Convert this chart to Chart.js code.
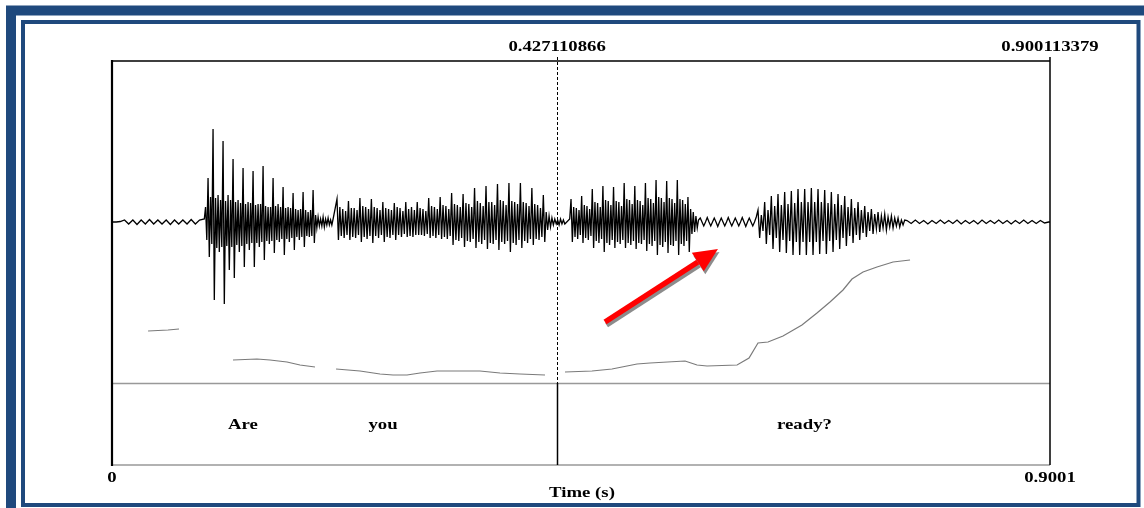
<!DOCTYPE html>
<html>
<head>
<meta charset="utf-8">
<title>Are you ready?</title>
<script src="https://cdn.jsdelivr.net/npm/chart.js@4.4.0/dist/chart.umd.min.js"></script>
<style>
  body { margin: 0; background: #fff; }
  #wave { display: block; }
</style>
</head>
<body>
<canvas id="wave" width="1144" height="508"></canvas>
<script>
// sound: "Are you ready?"  (time in s)
const totalTime = 0.900113379
const boundaryTimes = [0.427110866]
const topLabels = ['0.427110866', '0.900113379']
const topLabelTimes = [0.427110866, 0.900113379]
const bottomLabels = ['0', '0.9001']
const bottomLabelTimes = [0, 0.900113379]
const xTitle = 'Time (s)'

const tierWords = ['Are', 'you', 'ready?']
const tierWordTimes = [0.1257, 0.2601, 0.6645]

// waveform in pieces (start time, sample step, amplitudes)
const leadStart = 0, leadStep = 0.004
const leadWave = [0, 0, 0.005, 0.02, -0.02, 0.02, -0.025, 0.02, -0.02, 0.025, -0.02, 0.02, -0.02, 0.02, -0.025, 0.02, -0.02, 0.02, -0.02, 0.025, -0.02, 0.02]

const areStart = 0.08857, areStep = 0.0012
const areWave = [
  0.03, 0.15, -0.18, 0.44, -0.35, 0.25, -0.22, 0.93, -0.78, 0.24, -0.26, 0.27, -0.30, 0.22, -0.25, 0.81,
  -0.82, 0.21, -0.24, 0.27, -0.48, 0.22, -0.25, 0.63, -0.56, 0.20, -0.23, 0.22, -0.30, 0.19, -0.24, 0.54,
  -0.45, 0.18, -0.22, 0.20, -0.28, 0.19, -0.21, 0.51, -0.45, 0.17, -0.21, 0.18, -0.25, 0.18, -0.20, 0.56,
  -0.38, 0.16, -0.19, 0.15, -0.22, 0.15, -0.19, 0.44, -0.31, 0.16, -0.18, 0.18, -0.20, 0.15, -0.17, 0.35,
  -0.33, 0.14, -0.17, 0.15, -0.20, 0.14, -0.16, 0.29, -0.28, 0.13, -0.15, 0.12, -0.18, 0.13, -0.15, 0.30,
  -0.25, 0.12, -0.14, 0.10, -0.15, 0.12, -0.14, 0.32, -0.21, 0.07, -0.06, 0.05, -0.04, 0.03, -0.04, 0.05,
  -0.05, 0.03, -0.03, 0.04, -0.03, 0.02, -0.03, 0.03]

const youStart = 0.21591, youStep = 0.001375
const youWave = [
  0.23, -0.18, 0.15, -0.14, 0.13, -0.16, 0.11, -0.13,
  0.21, -0.18, 0.14, -0.15, 0.14, -0.16, 0.12, -0.13,
  0.24, -0.20, 0.16, -0.15, 0.15, -0.17, 0.13, -0.14,
  0.23, -0.21, 0.15, -0.14, 0.14, -0.16, 0.12, -0.13,
  0.20, -0.20, 0.14, -0.15, 0.13, -0.16, 0.12, -0.13,
  0.19, -0.18, 0.15, -0.13, 0.14, -0.15, 0.11, -0.12,
  0.20, -0.15, 0.13, -0.14, 0.15, -0.15, 0.12, -0.13,
  0.20, -0.13, 0.14, -0.13, 0.13, -0.14, 0.11, -0.12,
  0.24, -0.16, 0.16, -0.14, 0.15, -0.16, 0.13, -0.13,
  0.25, -0.17, 0.17, -0.15, 0.16, -0.17, 0.13, -0.14,
  0.29, -0.23, 0.18, -0.18, 0.17, -0.19, 0.15, -0.16,
  0.28, -0.25, 0.19, -0.19, 0.18, -0.20, 0.15, -0.17,
  0.34, -0.26, 0.21, -0.20, 0.19, -0.22, 0.16, -0.18,
  0.36, -0.27, 0.20, -0.21, 0.20, -0.22, 0.17, -0.18,
  0.38, -0.28, 0.22, -0.20, 0.21, -0.22, 0.17, -0.19,
  0.39, -0.30, 0.21, -0.21, 0.20, -0.23, 0.18, -0.18,
  0.39, -0.26, 0.20, -0.19, 0.19, -0.21, 0.16, -0.17,
  0.34, -0.23, 0.18, -0.17, 0.17, -0.18, 0.14, -0.15,
  0.27, -0.20, 0.10, -0.08, 0.06, -0.05, 0.04, -0.03,
  0.03, -0.02, 0.02, -0.03, 0.03, -0.02, 0.02, -0.02]

const reaStart = 0.43921, reaStep = 0.001275
const reaWave = [0.03,
  0.23, -0.20, 0.15, -0.15, 0.14, -0.17, 0.12, -0.13,
  0.26, -0.21, 0.17, -0.16, 0.16, -0.18, 0.13, -0.14,
  0.33, -0.26, 0.20, -0.19, 0.19, -0.21, 0.15, -0.17,
  0.36, -0.30, 0.22, -0.21, 0.21, -0.23, 0.17, -0.18,
  0.35, -0.26, 0.21, -0.20, 0.20, -0.22, 0.16, -0.18,
  0.39, -0.26, 0.23, -0.21, 0.22, -0.23, 0.18, -0.19,
  0.36, -0.27, 0.22, -0.21, 0.21, -0.22, 0.17, -0.18,
  0.39, -0.29, 0.24, -0.22, 0.23, -0.24, 0.19, -0.19,
  0.42, -0.33, 0.25, -0.23, 0.24, -0.25, 0.20, -0.20,
  0.41, -0.31, 0.24, -0.23, 0.23, -0.24, 0.19, -0.19,
  0.42, -0.33, 0.23, -0.22, 0.22, -0.24, 0.18, -0.19,
  0.25, -0.30, 0.13, -0.12, 0.10, -0.10, 0.06, -0.06]

const gapStart = 0.56281, gapStep = 0.00168
const gapWave = [0.02, 0.04, 0, -0.04, 0, 0.045, 0, -0.04, 0, 0.04, 0, -0.045, 0, 0.04, 0, -0.04, 0,
  0.045, 0, -0.04, 0, 0.04, 0, -0.04, 0, 0.045, 0, -0.045, 0, 0.04, 0, -0.04, 0, 0.05]

const dyStart = 0.61991, dyStep = 0.0016
const dyWave = [
  0.12, -0.16, 0.07, -0.09, 0.20, -0.22, 0.12, -0.13, 0.26, -0.27, 0.16, -0.16, 0.28, -0.30, 0.17, -0.18,
  0.30, -0.31, 0.18, -0.19, 0.31, -0.33, 0.19, -0.20, 0.33, -0.33, 0.20, -0.20, 0.33, -0.33, 0.20, -0.20,
  0.34, -0.33, 0.20, -0.20, 0.33, -0.32, 0.20, -0.19, 0.32, -0.32, 0.19, -0.19, 0.30, -0.30, 0.18, -0.18,
  0.28, -0.27, 0.17, -0.16, 0.26, -0.24, 0.15, -0.14, 0.23, -0.21, 0.14, -0.13, 0.20, -0.18, 0.12, -0.11,
  0.16, -0.15, 0.10, -0.09, 0.13, -0.12, 0.08, -0.07, 0.10, -0.10, 0.06, -0.06, 0.08, -0.08, 0.05, -0.05,
  0.06, -0.06, 0.04, -0.04, 0.04, -0.05, 0.02, -0.03, 0.02]

const tailStart = 0.76289, tailStep = 0.004
const tailWave = [0.015, -0.015, 0.02, -0.015, 0.015, -0.02, 0.015, -0.015, 0.02, -0.015, 0.015, -0.015,
  0.02, -0.02, 0.015, -0.015, 0.015, -0.02, 0.02, -0.015, 0.015, -0.015, 0.02, -0.015, 0.015, -0.02,
  0.015, -0.015, 0.02, -0.015, 0.015, -0.015, 0.015, -0.01, 0]

// pitch contour (Hz), null = unvoiced
const pitchTimes = [0.0346, 0.0537, 0.0643, 0.09,
  0.1161, 0.1391, 0.1516, 0.1679, 0.1804, 0.1948, 0.205,
  0.2150, 0.2380, 0.2572, 0.2697, 0.2831, 0.2956, 0.3119, 0.3531, 0.3723, 0.3915, 0.4155, 0.425,
  0.4347, 0.4606, 0.4798, 0.5038, 0.5163, 0.5499, 0.5614, 0.5710, 0.5998, 0.6113, 0.6199, 0.6295,
  0.6439, 0.6621, 0.6765, 0.6890, 0.7015, 0.7101, 0.7207, 0.7341, 0.7495, 0.7658]
const pitchHz = [167.5, 168.75, 170, null,
  131.25, 132.5, 131.25, 128.75, 125, 122.5, null,
  120, 117.5, 113.75, 112.5, 112.5, 115, 117.5, 117.5, 115, 113.75, 112.5, null,
  116.25, 117.5, 120, 126.25, 127.5, 130, 125, 123.75, 125, 133.75, 152.5, 153.75,
  161.25, 175, 190, 203.75, 218.75, 232.5, 241.25, 247.5, 253.75, 256.25]

// red arrow pointing at the rise (time, Hz)
const arrowFrom = [0.4731, 178.75]
const arrowTo = [0.5815, 270]

const pieces = [
  [leadStart, leadStep, leadWave],
  [areStart, areStep, areWave],
  [youStart, youStep, youWave],
  [reaStart, reaStep, reaWave],
  [gapStart, gapStep, gapWave],
  [dyStart, dyStep, dyWave],
  [tailStart, tailStep, tailWave]
]
let wavePoints = []
pieces.forEach(p => {
  p[2].forEach((v, i) => wavePoints.push({ x: p[0] + i * p[1], y: v }))
})
wavePoints.push({ x: totalTime, y: 0 })

const pitchPoints = pitchTimes.map((t, i) => ({ x: t, y: pitchHz[i] }))

function stretchText(c, str, x, y) {
  c.save()
  c.translate(x, y)
  c.scale(1.25, 1)
  c.fillText(str, 0, 0)
  c.restore()
}

const praatFrame = {
  id: 'praatFrame',
  beforeDraw(chart) {
    const c = chart.ctx
    c.save()
    c.fillStyle = '#fff'
    c.fillRect(0, 0, chart.width, chart.height)
    c.strokeStyle = '#1f497d'
    c.lineWidth = 10
    c.strokeRect(11, 10.5, 1144, 510)
    c.lineWidth = 4
    c.strokeRect(23, 22, 1115.5, 483)
    c.restore()
  },
  afterDatasetsDraw(chart) {
    const c = chart.ctx
    const { left, right, top, bottom } = chart.chartArea
    const xs = chart.scales.x, yp = chart.scales.yp
    const tierTop = bottom - 82

    c.save()
    // tier lines
    c.strokeStyle = '#999'
    c.lineWidth = 1.5
    c.beginPath()
    c.moveTo(left, tierTop + 0.5); c.lineTo(right, tierTop + 0.5)
    c.moveTo(left, bottom); c.lineTo(right, bottom)
    c.stroke()

    // box
    c.strokeStyle = '#000'
    c.lineWidth = 1.5
    c.beginPath()
    c.moveTo(left, top); c.lineTo(right, top)
    c.moveTo(right, top - 4); c.lineTo(right, bottom)
    c.stroke()
    c.lineWidth = 2.2
    c.beginPath()
    c.moveTo(left, top - 1); c.lineTo(left, bottom + 1)
    c.stroke()

    // interval boundaries
    boundaryTimes.forEach(t => {
      const bx = Math.round(xs.getPixelForValue(t)) + 0.5
      c.lineWidth = 1
      c.setLineDash([3, 2])
      c.beginPath()
      c.moveTo(bx, top - 4); c.lineTo(bx, tierTop)
      c.stroke()
      c.setLineDash([])
      c.lineWidth = 1.5
      c.beginPath()
      c.moveTo(bx, tierTop); c.lineTo(bx, bottom)
      c.stroke()
    })

    // arrow with its grey shadow
    const ax = xs.getPixelForValue(arrowFrom[0]), ay = yp.getPixelForValue(arrowFrom[1])
    const bx = xs.getPixelForValue(arrowTo[0]), by = yp.getPixelForValue(arrowTo[1])
    const len = Math.hypot(bx - ax, by - ay)
    const ux = (bx - ax) / len, uy = (by - ay) / len
    const hl = 24, hw = 11
    const cx = bx - hl * ux, cy = by - hl * uy
    const drawArrow = (dx, dy, col) => {
      c.strokeStyle = col
      c.fillStyle = col
      c.lineWidth = 5.5
      c.lineCap = 'butt'
      c.beginPath()
      c.moveTo(ax + dx, ay + dy); c.lineTo(cx + dx, cy + dy)
      c.stroke()
      c.beginPath()
      c.moveTo(bx + dx, by + dy)
      c.lineTo(cx - hw * uy + dx, cy + hw * ux + dy)
      c.lineTo(cx + hw * uy + dx, cy - hw * ux + dy)
      c.closePath()
      c.fill()
    }
    drawArrow(1.5, 3, '#8c8c8c')
    drawArrow(0, 0, '#ff0000')

    // texts
    c.fillStyle = '#000'
    c.font = 'bold 15px "Liberation Serif", "Times New Roman", serif'
    c.textAlign = 'center'
    c.textBaseline = 'middle'
    topLabels.forEach((s, i) => stretchText(c, s, xs.getPixelForValue(topLabelTimes[i]), 47))
    bottomLabels.forEach((s, i) => stretchText(c, s, xs.getPixelForValue(bottomLabelTimes[i]), 478))
    stretchText(c, xTitle, (left + right) / 2 + 1, 493)
    tierWords.forEach((s, i) => stretchText(c, s, xs.getPixelForValue(tierWordTimes[i]), (tierTop + bottom) / 2 + 1))
    c.restore()
  }
}

const ctx = document.getElementById('wave').getContext('2d')
const chart = new Chart(ctx, {
  type: 'line',
  data: {
    datasets: [{
      label: 'waveform',
      data: wavePoints,
      yAxisID: 'yw',
      borderColor: '#000',
      borderWidth: 1.3,
      pointRadius: 0,
      tension: 0
    }, {
      label: 'pitch',
      data: pitchPoints,
      yAxisID: 'yp',
      borderColor: '#7a7a7a',
      borderWidth: 1.2,
      pointRadius: 0,
      spanGaps: false,
      tension: 0
    }]
  },
  options: {
    responsive: false,
    animation: false,
    devicePixelRatio: 1,
    layout: { padding: { left: 112, right: 94, top: 61, bottom: 43 } },
    plugins: { legend: { display: false }, tooltip: { enabled: false } },
    scales: {
      x: { type: 'linear', min: 0, max: totalTime, display: false },
      yw: { type: 'linear', min: -2.43, max: 1.61, display: false },
      yp: { type: 'linear', min: 0, max: 505, display: false }
    }
  },
  plugins: [praatFrame]
})
</script>
</body>
</html>
